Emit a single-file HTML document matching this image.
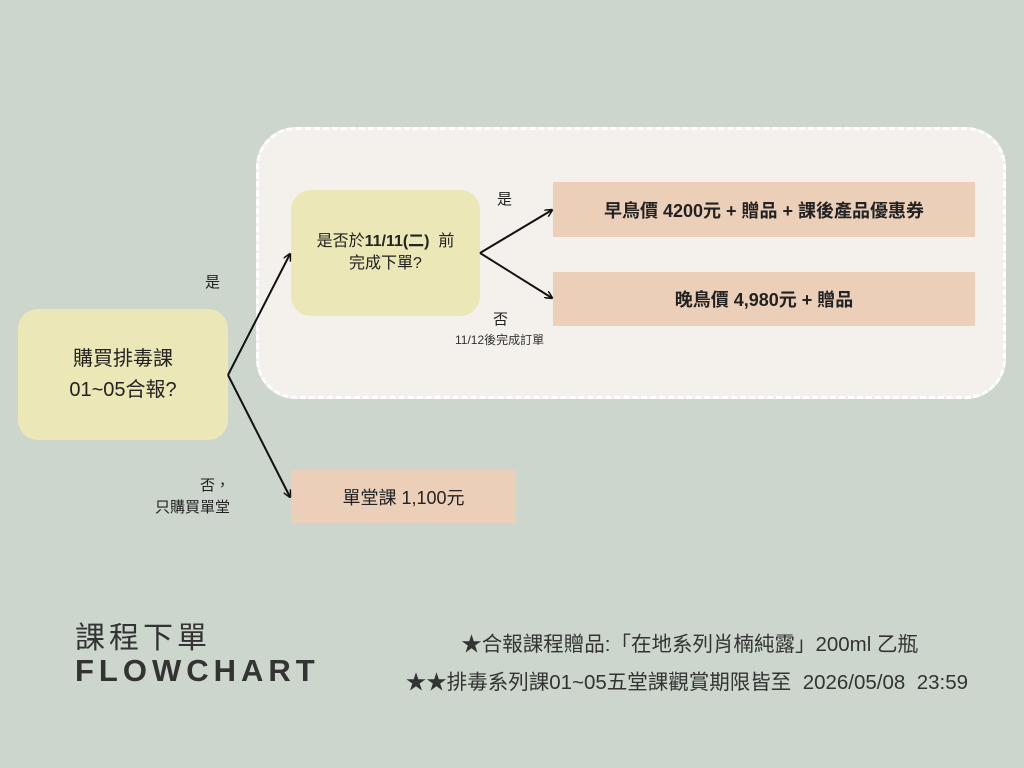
<!DOCTYPE html>
<html><head><meta charset="utf-8"><style>
body{margin:0;width:1024px;height:768px;background:#ccd6cd;position:relative;overflow:hidden;font-family:"Liberation Sans","Noto Sans CJK TC",sans-serif;color:#222}
.a{position:absolute}
.c{display:flex;align-items:center;justify-content:center;text-align:center}
</style></head><body>
<div class="a" style="left:256px;top:127px;width:744px;height:266px;background:#f4f0eb;border:3px dashed #fff;border-radius:40px"></div>
<div class="a c" style="left:18px;top:309px;width:210px;height:131px;background:#ebe7b6;border-radius:20px;font-size:20px;line-height:31px"><div>購買排毒課<br>01~05合報?</div></div>
<div class="a c" style="left:291px;top:190px;width:189px;height:126px;background:#ebe7b6;border-radius:20px;font-size:16px;line-height:22px"><div>是否於<b>11/11(二)</b>&nbsp; 前<br>完成下單?</div></div>
<div class="a c" style="left:553px;top:182px;width:422px;height:55px;background:#ebcfb9;font-size:18px;font-weight:bold">早鳥價 4200元 + 贈品 + 課後產品優惠券</div>
<div class="a c" style="left:553px;top:272px;width:422px;height:54px;background:#ebcfb9;font-size:18px;font-weight:bold">晚鳥價 4,980元 + 贈品</div>
<div class="a c" style="left:291px;top:470px;width:225px;height:53px;background:#ebcfb9;font-size:18px">單堂課 1,100元</div>
<svg class="a" style="left:0;top:0" width="1024" height="768">
<defs><marker id="m" markerWidth="8" markerHeight="8" refX="7" refY="4" orient="auto" markerUnits="userSpaceOnUse"><path d="M0,0 L8,4 L0,8" fill="none" stroke="#111" stroke-width="1.5"/></marker></defs>
<g stroke="#111" stroke-width="2" fill="none">
<path d="M228,375 L290,254" marker-end="url(#m)"/>
<path d="M228,375 L290,497" marker-end="url(#m)"/>
<path d="M480,253 L552,210" marker-end="url(#m)"/>
<path d="M480,253 L552,298" marker-end="url(#m)"/>
</g></svg>
<div class="a" style="left:205px;top:271px;font-size:15px">是</div>
<div class="a" style="left:497px;top:188px;font-size:15px">是</div>
<div class="a" style="left:493px;top:308px;font-size:15px">否</div>
<div class="a" style="left:455px;top:331px;font-size:12px;color:#333">11/12後完成訂單</div>
<div class="a" style="left:140px;top:475px;width:90px;text-align:right;font-size:15px;line-height:22px">否，<br>只購買單堂</div>
<div class="a" style="left:75px;top:613px;font-size:30px;color:#333;letter-spacing:4px">課程下單</div>
<div class="a" style="left:75px;top:653px;font-size:31px;color:#333;font-weight:bold;letter-spacing:5px">FLOWCHART</div>
<div class="a" style="left:300px;top:627px;width:618px;text-align:right;font-size:20.5px;color:#333">★合報課程贈品:「在地系列肖楠純露」200ml 乙瓶</div>
<div class="a" style="left:300px;top:665px;width:668px;text-align:right;font-size:20.5px;color:#333">★★排毒系列課01~05五堂課觀賞期限皆至&nbsp; 2026/05/08&nbsp; 23:59</div>
</body></html>
